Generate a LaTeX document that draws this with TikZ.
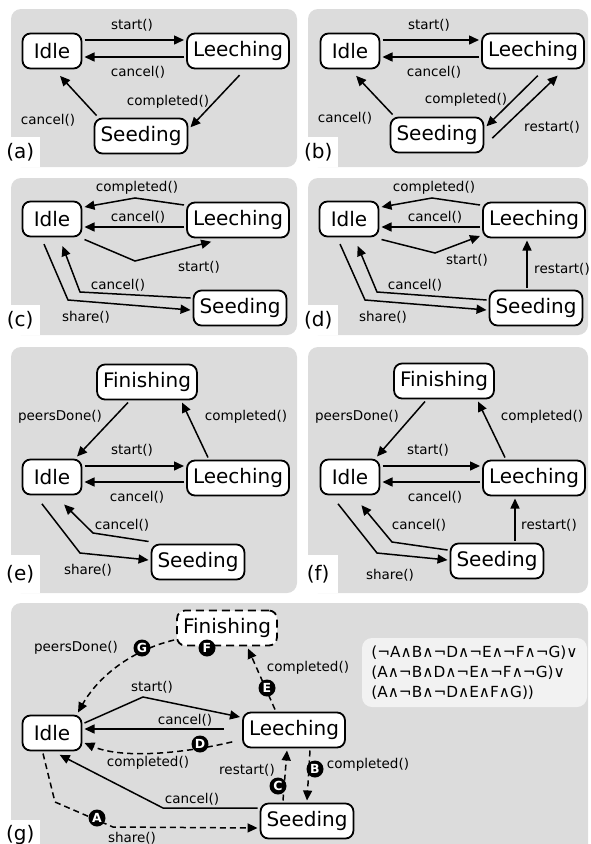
\documentclass[tikz,border=0pt]{standalone}
\usepackage{fontspec}
\setmainfont{DejaVu Sans}
\usetikzlibrary{arrows.meta}

\definecolor{panelgray}{RGB}{220,220,220}
\definecolor{formulagray}{RGB}{242,242,242}
\newcommand{\statefont}{\fontsize{20}{24}\selectfont}
\newcommand{\lblfont}{\fontsize{13.5}{16}\selectfont}
\newcommand{\formfont}{\fontsize{15.3}{20}\selectfont}

\tikzset{
	stbox/.style={draw, line width=1.8pt, rounded corners=8pt, fill=white, font=\statefont, minimum height=35pt, inner xsep=6pt, outer sep=3pt},
	trans/.style={line width=1.5pt, -{Triangle[length=10pt,width=9pt]}},
	lbl/.style={font=\lblfont, inner sep=1pt},
	panel/.style={fill=panelgray, rounded corners=10pt},
	tag/.style={fill=white, font=\statefont, minimum width=40pt, minimum height=30pt, inner sep=0pt, anchor=south west},
	condmark/.style={circle, fill=black, text=white, font=\fontsize{12.5}{12.5}\selectfont\bfseries, inner sep=0pt, minimum size=17pt},
	formbox/.style={fill=formulagray, rounded corners=10pt, align=left, font=\formfont, minimum width=225pt, minimum height=69pt, inner xsep=8pt},
	dashline/.style={dash pattern=on 6pt off 4pt},
}

\begin{document}
\begin{tikzpicture}[x=1pt, y=-1pt]
	\useasboundingbox (0,0) rectangle (590,844);
	\clip (0,0) rectangle (590,844);

	% panels
	\fill[panel] (11,9) rectangle (297,167);
	\fill[panel] (308,9) rectangle (588,167);
	\fill[panel] (11,178) rectangle (297,335);
	\fill[panel] (308,178) rectangle (588,335);
	\fill[panel] (11,347) rectangle (297,593);
	\fill[panel] (308,347) rectangle (588,593);
	\fill[panel] (11,603) rectangle (588,870);

	\node[tag] (tagA) at (0,167) {(a)};
	\node[tag] (tagB) at (298,167) {(b)};
	\node[tag] (tagC) at (0,335) {(c)};
	\node[tag] (tagD) at (298,335) {(d)};
	\node[tag, minimum height=38pt] (tagE) at (0,593) {(e)};
	\node[tag, minimum height=38pt] (tagF) at (298,593) {(f)};
	\node[tag] (tagG) at (0,850) {(g)};

	% (a)
	\node[stbox, minimum width=59pt] (idleA) at (52,51) {Idle};
	\node[stbox] (leechA) at (238,51) {Leeching};
	\node[stbox] (seedA) at (141,136) {Seeding};
	\draw[trans] ([yshift=11pt]idleA.east) -- ([yshift=11pt]leechA.west) node[lbl] at (132,25) {start()};
	\draw[trans] ([yshift=-6pt]leechA.west) -- ([yshift=-6pt]idleA.east) node[lbl] at (138,72) {cancel()};
	\draw[trans, shorten <=5pt] ([xshift=5pt]leechA.south) -- (seedA.10) node[lbl] at (168,102) {completed()};
	\draw[trans, shorten >=6pt] ([xshift=5pt]seedA.north west) -- ([xshift=4pt]idleA.south) node[lbl] at (48,120) {cancel()};

	% (b)
	\node[stbox, minimum width=59pt] (idleB) at (350,51) {Idle};
	\node[stbox] (leechB) at (533,51) {Leeching};
	\node[stbox] (seedB) at (437,135) {Seeding};
	\draw[trans] ([yshift=11pt]idleB.east) -- ([yshift=11pt]leechB.west) node[lbl] at (429,25) {start()};
	\draw[trans] ([yshift=-6pt]leechB.west) -- ([yshift=-6pt]idleB.east) node[lbl] at (434,72) {cancel()};
	\draw[trans, shorten <=6pt] ([xshift=9pt]leechB.south) -- (seedB.10) node[lbl] at (466,100) {completed()};
	\draw[trans, shorten <=8pt, shorten >=6pt] (seedB.-10) -- ([xshift=29pt]leechB.south) node[lbl] at (552,127) {restart()};
	\draw[trans, shorten >=6pt] ([xshift=5pt]seedB.north west) -- ([xshift=2pt]idleB.south) node[lbl] at (345,118) {cancel()};

	% (c)
	\node[stbox, minimum width=59pt] (idleC) at (52,219) {Idle};
	\node[stbox] (leechC) at (238,220) {Leeching};
	\node[stbox] (seedC) at (240,308) {Seeding};
	\draw[trans] ([yshift=15pt]leechC.west) -- (135,198) -- ([yshift=12pt]idleC.east) node[lbl] at (137,188) {completed()};
	\draw[trans] ([yshift=-7pt]leechC.west) -- ([yshift=-8pt]idleC.east) node[lbl] at (138,217) {cancel()};
	\draw[trans, shorten >=5pt] (idleC.south east) -- (135,261) -- ([xshift=-22pt]leechC.south) node[lbl] at (199,267) {start()};
	\draw[trans, shorten >=7pt] ([yshift=10pt]seedC.west) -- (80,292) -- ([xshift=8pt]idleC.south) node[lbl] at (118,285) {cancel()};
	\draw[trans, shorten <=5pt] ([xshift=-10pt]idleC.south) -- (68,300) -- ([yshift=-2pt]seedC.west) node[lbl] at (86,317) {share()};

	% (d)
	\node[stbox, minimum width=59pt] (idleD) at (349,219) {Idle};
	\node[stbox] (leechD) at (534,220) {Leeching};
	\node[stbox] (seedD) at (536,308) {Seeding};
	\draw[trans] ([yshift=15pt]leechD.west) -- (432,198) -- ([yshift=12pt]idleD.east) node[lbl] at (434,188) {completed()};
	\draw[trans] ([yshift=-7pt]leechD.west) -- ([yshift=-8pt]idleD.east) node[lbl] at (435,217) {cancel()};
	\draw[trans] (idleD.south east) -- (435,253) -- ([yshift=-16pt]leechD.west) node[lbl] at (467,260) {start()};
	\draw[trans] ([xshift=-9pt]seedD.north) -- ([xshift=-7pt]leechD.south) node[lbl] at (562,269) {restart()};
	\draw[trans, shorten >=7pt] ([yshift=8pt]seedD.west) -- (377,292) -- ([xshift=6pt]idleD.south) node[lbl] at (415,285) {cancel()};
	\draw[trans, shorten <=5pt] ([xshift=-11pt]idleD.south) -- (365,300) -- ([yshift=-2pt]seedD.west) node[lbl] at (383,317) {share()};

	% (e)
	\node[stbox] (finE) at (147,382) {Finishing};
	\node[stbox, minimum width=59pt] (idleE) at (52,477) {Idle};
	\node[stbox] (leechE) at (238,478) {Leeching};
	\node[stbox] (seedE) at (198,562) {Seeding};
	\draw[trans] ([xshift=-19pt]finE.south) -- ([xshift=25pt]idleE.north) node[lbl] at (60,417) {peersDone()};
	\draw[trans] ([xshift=-30pt]leechE.north) -- ([xshift=35pt]finE.south) node[lbl] at (246,417) {completed()};
	\draw[trans] ([yshift=11pt]idleE.east) -- ([yshift=12pt]leechE.west) node[lbl] at (132,450) {start()};
	\draw[trans] ([yshift=-4pt]leechE.west) -- ([yshift=-5pt]idleE.east) node[lbl] at (137,497) {cancel()};
	\draw[trans, shorten >=10pt] (seedE.north west) -- (93,533) -- ([xshift=5pt]idleE.south) node[lbl] at (122,525) {cancel()};
	\draw[trans, shorten <=8pt] ([xshift=-15pt]idleE.south) -- (80,553) -- ([yshift=2pt]seedE.west) node[lbl] at (88,570) {share()};

	% (f)
	\node[stbox] (finF) at (444,381) {Finishing};
	\node[stbox, minimum width=59pt] (idleF) at (350,477) {Idle};
	\node[stbox] (leechF) at (534,478) {Leeching};
	\node[stbox] (seedF) at (497,561) {Seeding};
	\draw[trans] ([xshift=-19pt]finF.south) -- ([xshift=27pt]idleF.north) node[lbl] at (357,417) {peersDone()};
	\draw[trans] ([xshift=-29pt]leechF.north) -- ([xshift=34pt]finF.south) node[lbl] at (542,417) {completed()};
	\draw[trans] ([yshift=11pt]idleF.east) -- ([yshift=12pt]leechF.west) node[lbl] at (428,450) {start()};
	\draw[trans] ([yshift=-4pt]leechF.west) -- ([yshift=-5pt]idleF.east) node[lbl] at (435,497) {cancel()};
	\draw[trans] ([xshift=18pt]seedF.north) -- ([xshift=-19pt]leechF.south) node[lbl] at (549,525) {restart()};
	\draw[trans, shorten >=10pt] ([yshift=11pt]seedF.west) -- (392,542) -- ([xshift=5pt]idleF.south) node[lbl] at (419,525) {cancel()};
	\draw[trans, shorten <=8pt] ([xshift=-17pt]idleF.south) -- (377,553) -- ([yshift=1pt]seedF.west) node[lbl] at (390,575) {share()};

	% (g)
	\node[stbox, dash pattern=on 8pt off 5pt] (finG) at (227,628) {Finishing};
	\node[stbox, minimum width=59pt] (idleG) at (52,733) {Idle};
	\node[stbox] (leechG) at (294,730) {Leeching};
	\node[stbox] (seedG) at (307,821) {Seeding};
	\node[formbox] (cond) at (474.5,672.5) {(¬A∧B∧¬D∧¬E∧¬F∧¬G)∨\\(A∧¬B∧D∧¬E∧¬F∧¬G)∨\\(A∧¬B∧¬D∧E∧F∧G))};

	\draw[trans, dashline] ([yshift=-12pt]finG.west) .. controls (125,652) and (95,682) .. ([xshift=26pt]idleG.north) node[lbl] at (76,648) {peersDone()};
	\draw[trans, dashline] ([xshift=-19pt]leechG.north) -- ([xshift=21pt]finG.south) node[lbl] at (308,668) {completed()};
	\draw[trans] ([yshift=10pt]idleG.east) -- (143,697) -- ([yshift=13pt]leechG.west) node[lbl] at (152,687) {start()};
	\draw[trans, shorten <=16pt] ([yshift=1pt]leechG.west) -- ([yshift=4pt]idleG.east) node[lbl] at (185,720) {cancel()};
	\draw[trans, dashline, shorten <=8pt] ([yshift=-10pt]leechG.west) .. controls (190,752) and (125,760) .. ([yshift=-10pt]idleG.east) node[lbl] at (148,763) {completed()};
	\draw[trans, dashline] ([xshift=-24pt]seedG.north) -- ([xshift=-7pt]leechG.south) node[lbl] at (247,770) {restart()};
	\draw[trans, dashline] ([xshift=16pt]leechG.south) -- (seedG.north) node[lbl] at (368,765) {completed()};
	\draw[trans, shorten >=3pt] ([yshift=13pt]seedG.west) -- (163,808) -- ([xshift=5pt]idleG.south) node[lbl] at (192,799) {cancel()};
	\draw[trans, dashline] ([xshift=-9pt]idleG.south) -- (55,802) -- (113,827) -- ([yshift=-7pt]seedG.west) node[lbl] at (132,838) {share()};

	\node[condmark] (mA) at (97,818) {A};
	\node[condmark] (mB) at (315,769) {B};
	\node[condmark] (mC) at (278,786) {C};
	\node[condmark] (mD) at (200,744) {D};
	\node[condmark] (mE) at (267,688) {E};
	\node[condmark] (mF) at (207,648) {F};
	\node[condmark] (mG) at (142,648) {G};
\end{tikzpicture}
\end{document}
